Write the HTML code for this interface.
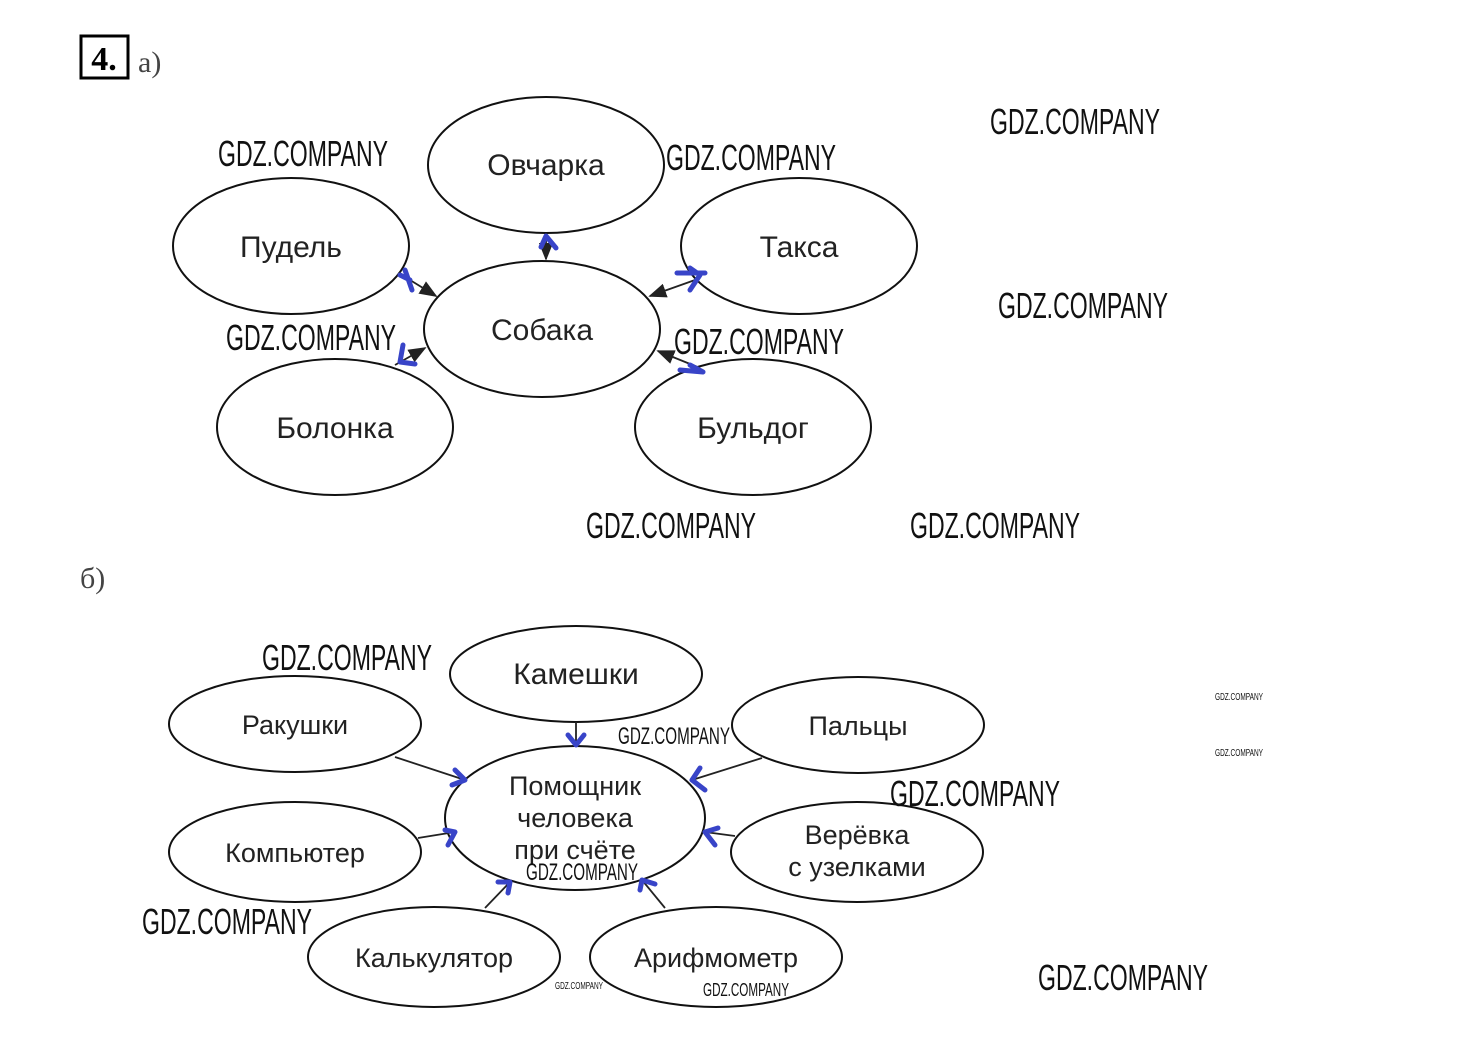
<!DOCTYPE html>
<html><head><meta charset="utf-8"><style>
html,body{margin:0;padding:0;background:#fff;}
svg{display:block;}
.t{font-family:"Liberation Sans","DejaVu Sans",sans-serif;font-size:30px;fill:#222;text-anchor:middle;}
.w{font-family:"Liberation Sans","DejaVu Sans",sans-serif;font-size:36px;fill:#111;font-weight:normal;}
.e{fill:none;stroke:#111;stroke-width:2;}
.l{stroke:#222;stroke-width:1.8;fill:none;}
.b{stroke:#3844c8;stroke-width:5;fill:none;stroke-linecap:round;stroke-linejoin:round;}
</style></head><body>
<svg width="1460" height="1050" viewBox="0 0 1460 1050" xmlns="http://www.w3.org/2000/svg">
<defs><marker id="a" markerWidth="10" markerHeight="8" refX="9" refY="4" orient="auto"><path d="M0,0 L10,4 L0,8 z" fill="#222"/></marker></defs>
<rect x="81" y="36" width="47" height="42" fill="none" stroke="#000" stroke-width="3"/>
<text x="104" y="70" font-family="Liberation Serif,serif" font-size="34" font-weight="bold" text-anchor="middle">4.</text>
<text x="138" y="72" font-family="Liberation Serif,serif" font-size="30" fill="#444">а)</text>
<text x="80" y="588" font-family="Liberation Serif,serif" font-size="30" fill="#444">б)</text>

<!-- part a -->
<ellipse class="e" cx="546" cy="165" rx="118" ry="68"/>
<ellipse class="e" cx="291" cy="246" rx="118" ry="68"/>
<ellipse class="e" cx="799" cy="246" rx="118" ry="68"/>
<ellipse class="e" cx="542" cy="329" rx="118" ry="68"/>
<ellipse class="e" cx="335" cy="427" rx="118" ry="68"/>
<ellipse class="e" cx="753" cy="427" rx="118" ry="68"/>
<text class="t" x="546" y="175">Овчарка</text>
<text class="t" x="291" y="257">Пудель</text>
<text class="t" x="799" y="257">Такса</text>
<text class="t" x="542" y="340">Собака</text>
<text class="t" x="335" y="438">Болонка</text>
<text class="t" x="753" y="438">Бульдог</text>
<line class="l" x1="546" y1="236" x2="546" y2="259" marker-end="url(#a)"/>
<line class="l" x1="410" y1="280" x2="436" y2="296" marker-end="url(#a)"/>
<line class="l" x1="695" y1="280" x2="650" y2="296" marker-end="url(#a)"/>
<line class="l" x1="395" y1="365" x2="425" y2="348" marker-end="url(#a)"/>
<line class="l" x1="700" y1="368" x2="658" y2="351" marker-end="url(#a)"/>
<path class="b" d="M541,247 L546,236 L556,248"/>
<path class="b" d="M400,275 L410,280 M405,270 L412,290"/>
<path class="b" d="M677,273 L705,273 M690,268 L700,275 L690,290"/>
<path class="b" d="M403,345 L400,362 L415,364"/>
<path class="b" d="M680,370 L703,372 L690,365"/>

<!-- part b -->
<ellipse class="e" cx="576" cy="674" rx="126" ry="48"/>
<ellipse class="e" cx="295" cy="724" rx="126" ry="48"/>
<ellipse class="e" cx="858" cy="725" rx="126" ry="48"/>
<ellipse class="e" cx="575" cy="818" rx="130" ry="72"/>
<ellipse class="e" cx="295" cy="852" rx="126" ry="50"/>
<ellipse class="e" cx="857" cy="852" rx="126" ry="50"/>
<ellipse class="e" cx="434" cy="957" rx="126" ry="50"/>
<ellipse class="e" cx="716" cy="957" rx="126" ry="50"/>
<text class="t" x="576" y="684" font-size="27">Камешки</text>
<text class="t" x="295" y="734" style="font-size:27px">Ракушки</text>
<text class="t" x="858" y="735" style="font-size:27px">Пальцы</text>
<text class="t" x="575" y="795" style="font-size:27px">Помощник</text>
<text class="t" x="575" y="827" style="font-size:27px">человека</text>
<text class="t" x="575" y="859" style="font-size:27px">при счёте</text>
<text class="t" x="295" y="862" style="font-size:27px">Компьютер</text>
<text class="t" x="857" y="844" style="font-size:27px">Верёвка</text>
<text class="t" x="857" y="876" style="font-size:27px">с узелками</text>
<text class="t" x="434" y="967" style="font-size:27px">Калькулятор</text>
<text class="t" x="716" y="967" style="font-size:27px">Арифмометр</text>
<line class="l" x1="576" y1="722" x2="576" y2="745"/>
<line class="l" x1="395" y1="757" x2="465" y2="780"/>
<line class="l" x1="762" y1="758" x2="692" y2="780"/>
<line class="l" x1="418" y1="838" x2="455" y2="832"/>
<line class="l" x1="735" y1="836" x2="705" y2="832"/>
<line class="l" x1="485" y1="908" x2="510" y2="882"/>
<line class="l" x1="665" y1="908" x2="642" y2="880"/>
<path class="b" d="M568,735 L576,745 L584,735"/>
<path class="b" d="M455,770 L465,780 L452,785"/>
<path class="b" d="M700,768 L692,780 L705,790"/>
<path class="b" d="M445,830 L455,832 L448,845"/>
<path class="b" d="M718,828 L705,832 L715,845"/>
<path class="b" d="M498,882 L510,882 L508,893"/>
<path class="b" d="M640,890 L642,880 L655,884"/>

<!-- watermarks -->
<g class="w">
<text x="218" y="166" textLength="170" lengthAdjust="spacingAndGlyphs">GDZ.COMPANY</text>
<text x="666" y="170" textLength="170" lengthAdjust="spacingAndGlyphs">GDZ.COMPANY</text>
<text x="990" y="134" textLength="170" lengthAdjust="spacingAndGlyphs">GDZ.COMPANY</text>
<text x="998" y="318" textLength="170" lengthAdjust="spacingAndGlyphs">GDZ.COMPANY</text>
<text x="226" y="350" textLength="170" lengthAdjust="spacingAndGlyphs">GDZ.COMPANY</text>
<text x="674" y="354" textLength="170" lengthAdjust="spacingAndGlyphs">GDZ.COMPANY</text>
<text x="586" y="538" textLength="170" lengthAdjust="spacingAndGlyphs">GDZ.COMPANY</text>
<text x="910" y="538" textLength="170" lengthAdjust="spacingAndGlyphs">GDZ.COMPANY</text>
<text x="262" y="670" textLength="170" lengthAdjust="spacingAndGlyphs">GDZ.COMPANY</text>
<text x="890" y="806" textLength="170" lengthAdjust="spacingAndGlyphs">GDZ.COMPANY</text>
<text x="142" y="934" textLength="170" lengthAdjust="spacingAndGlyphs">GDZ.COMPANY</text>
<text x="1038" y="990" textLength="170" lengthAdjust="spacingAndGlyphs">GDZ.COMPANY</text>
<text x="618" y="744" style="font-size:24px" textLength="112" lengthAdjust="spacingAndGlyphs">GDZ.COMPANY</text>
<text x="526" y="880" style="font-size:24px" textLength="112" lengthAdjust="spacingAndGlyphs">GDZ.COMPANY</text>
<text x="703" y="996" style="font-size:18px" textLength="86" lengthAdjust="spacingAndGlyphs">GDZ.COMPANY</text>
<text x="555" y="989" style="font-size:10px" textLength="48" lengthAdjust="spacingAndGlyphs">GDZ.COMPANY</text>
<text x="1215" y="700" style="font-size:10px" textLength="48" lengthAdjust="spacingAndGlyphs">GDZ.COMPANY</text>
<text x="1215" y="756" style="font-size:10px" textLength="48" lengthAdjust="spacingAndGlyphs">GDZ.COMPANY</text>
</g>
</svg>
</body></html>
